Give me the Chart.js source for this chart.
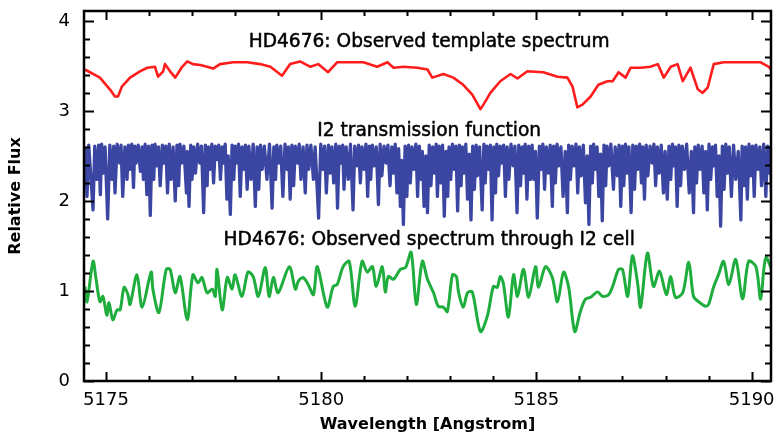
<!DOCTYPE html>
<html>
<head>
<meta charset="utf-8">
<script src="https://cdn.jsdelivr.net/npm/chart.js@4.4.0/dist/chart.umd.min.js"></script>
<style>
  html, body { margin: 0; padding: 0; background: #fff; }
  #wrap { width: 776px; height: 435px; }
</style>
</head>
<body>
<div id="wrap"><canvas id="spec"></canvas></div>
<script>
// axis setup
const xMin = 5174.49
const xMax = 5190.45
const yMin = 0
const yMax = 4.11
const xMajorTicks = [5175, 5180, 5185, 5190]
const xMinorTicks = [5175, 5176, 5177, 5178, 5179, 5180, 5181, 5182, 5183, 5184, 5185, 5186, 5187, 5188, 5189, 5190]
const yMajorTicks = [0, 1, 2, 3, 4]
const yMinorTicks = [0.2, 0.4, 0.6, 0.8, 1.2, 1.4, 1.6, 1.8, 2.2, 2.4, 2.6, 2.8, 3.2, 3.4, 3.6, 3.8]

// labels drawn inside the plot, [text, wavelength, flux]
const seriesLabels = [
  ['HD4676: Observed template spectrum', 5182.51, 3.76],
  ['I2 transmission function', 5182.51, 2.78],
  ['HD4676: Observed spectrum through I2 cell', 5182.51, 1.56],
]

// [wavelength, flux]
const templateSpectrum = [
  [5174.51, 3.46], [5174.86, 3.37], [5175.09, 3.24], [5175.21, 3.16], [5175.28, 3.16], [5175.37, 3.27],
  [5175.56, 3.37], [5175.79, 3.44], [5175.96, 3.48], [5176.14, 3.49], [5176.21, 3.38], [5176.33, 3.44],
  [5176.37, 3.52], [5176.49, 3.44], [5176.61, 3.37], [5176.77, 3.49], [5176.89, 3.55], [5177.02, 3.52],
  [5177.19, 3.51], [5177.35, 3.49], [5177.49, 3.47], [5177.65, 3.52], [5177.96, 3.54], [5178.28, 3.54],
  [5178.58, 3.52], [5178.82, 3.49], [5179.09, 3.39], [5179.28, 3.52], [5179.51, 3.55], [5179.75, 3.49],
  [5179.93, 3.52], [5180.16, 3.43], [5180.37, 3.54], [5180.68, 3.54], [5180.98, 3.54], [5181.30, 3.49],
  [5181.54, 3.54], [5181.68, 3.48], [5181.91, 3.49], [5182.23, 3.48], [5182.47, 3.46], [5182.58, 3.37],
  [5182.84, 3.41], [5183.07, 3.37], [5183.30, 3.29], [5183.51, 3.18], [5183.70, 3.02], [5183.77, 3.07],
  [5183.93, 3.20], [5184.16, 3.33], [5184.40, 3.41], [5184.56, 3.36], [5184.79, 3.44], [5185.16, 3.43],
  [5185.49, 3.38], [5185.72, 3.37], [5185.84, 3.27], [5185.95, 3.04], [5186.07, 3.07], [5186.26, 3.16],
  [5186.44, 3.29], [5186.65, 3.33], [5186.77, 3.33], [5186.91, 3.43], [5187.07, 3.37], [5187.19, 3.48],
  [5187.42, 3.48], [5187.65, 3.49], [5187.82, 3.52], [5187.96, 3.37], [5188.12, 3.49], [5188.28, 3.52],
  [5188.40, 3.33], [5188.58, 3.48], [5188.75, 3.24], [5188.86, 3.20], [5188.98, 3.26], [5189.12, 3.52],
  [5189.35, 3.54], [5189.82, 3.54], [5190.21, 3.54], [5190.40, 3.49], [5190.49, 3.43],
]

const i2Spectrum = [
  [5174.49, 2.60], [5174.52, 2.58], [5174.56, 2.05], [5174.60, 2.62], [5174.70, 1.90], [5174.74, 2.61],
  [5174.79, 2.24], [5174.83, 2.62], [5174.87, 2.07], [5174.90, 2.63], [5174.94, 2.31], [5174.98, 2.60],
  [5175.04, 1.80], [5175.09, 2.62], [5175.14, 2.24], [5175.18, 2.61], [5175.21, 2.09], [5175.26, 2.63],
  [5175.32, 2.42], [5175.35, 2.62], [5175.39, 2.05], [5175.44, 2.60], [5175.49, 2.24], [5175.52, 2.62],
  [5175.56, 2.35], [5175.60, 2.63], [5175.64, 2.15], [5175.67, 2.61], [5175.70, 2.42], [5175.75, 2.62],
  [5175.80, 2.33], [5175.84, 2.60], [5175.87, 2.24], [5175.91, 2.63], [5175.95, 2.07], [5175.99, 2.61],
  [5176.03, 1.84], [5176.07, 2.62], [5176.11, 2.24], [5176.14, 2.63], [5176.18, 2.39], [5176.22, 2.60],
  [5176.26, 2.17], [5176.31, 2.62], [5176.35, 2.42], [5176.39, 2.61], [5176.43, 2.09], [5176.47, 2.63],
  [5176.51, 2.24], [5176.56, 2.60], [5176.61, 2.00], [5176.65, 2.62], [5176.69, 2.17], [5176.72, 2.63],
  [5176.76, 2.42], [5176.81, 2.61], [5176.87, 2.09], [5176.89, 2.55], [5176.93, 1.94], [5176.97, 2.62],
  [5177.00, 2.24], [5177.04, 2.60], [5177.08, 2.31], [5177.13, 2.63], [5177.18, 2.42], [5177.22, 2.61],
  [5177.27, 1.87], [5177.31, 2.62], [5177.35, 2.17], [5177.38, 2.60], [5177.42, 2.35], [5177.46, 2.63],
  [5177.50, 2.20], [5177.54, 2.61], [5177.58, 2.46], [5177.62, 2.62], [5177.66, 2.24], [5177.70, 2.60],
  [5177.73, 2.42], [5177.77, 2.63], [5177.81, 2.02], [5177.84, 2.50], [5177.89, 1.85], [5177.93, 2.62],
  [5177.97, 2.24], [5178.00, 2.61], [5178.04, 2.42], [5178.08, 2.63], [5178.12, 2.05], [5178.16, 2.60],
  [5178.20, 2.35], [5178.24, 2.62], [5178.28, 2.13], [5178.32, 2.61], [5178.37, 2.24], [5178.42, 2.63],
  [5178.47, 1.94], [5178.51, 2.60], [5178.55, 2.13], [5178.59, 2.62], [5178.63, 2.35], [5178.68, 2.61],
  [5178.74, 2.24], [5178.80, 2.63], [5178.86, 1.92], [5178.90, 2.60], [5178.94, 2.24], [5178.97, 2.62],
  [5179.01, 2.42], [5179.06, 2.61], [5179.11, 2.05], [5179.16, 2.63], [5179.21, 2.35], [5179.24, 2.60],
  [5179.28, 2.02], [5179.32, 2.62], [5179.36, 2.17], [5179.40, 2.61], [5179.45, 2.42], [5179.49, 2.63],
  [5179.53, 2.24], [5179.58, 2.60], [5179.63, 2.09], [5179.67, 2.62], [5179.71, 2.35], [5179.76, 2.62],
  [5179.82, 2.24], [5179.86, 2.60], [5179.94, 1.81], [5179.99, 2.63], [5180.04, 2.35], [5180.08, 2.61],
  [5180.12, 2.09], [5180.17, 2.62], [5180.21, 2.31], [5180.25, 2.60], [5180.29, 2.20], [5180.34, 2.63],
  [5180.38, 1.92], [5180.42, 2.61], [5180.46, 2.42], [5180.50, 2.62], [5180.53, 2.13], [5180.58, 2.60],
  [5180.63, 2.24], [5180.68, 2.63], [5180.74, 1.90], [5180.78, 2.61], [5180.83, 2.39], [5180.87, 2.62],
  [5180.91, 2.20], [5180.95, 2.60], [5181.00, 2.35], [5181.04, 2.63], [5181.08, 2.05], [5181.12, 2.61],
  [5181.15, 2.24], [5181.19, 2.62], [5181.23, 2.39], [5181.28, 2.60], [5181.33, 1.96], [5181.37, 2.63],
  [5181.41, 2.28], [5181.46, 2.61], [5181.51, 2.42], [5181.55, 2.62], [5181.60, 2.17], [5181.64, 2.60],
  [5181.68, 2.31], [5181.72, 2.63], [5181.76, 2.09], [5181.80, 2.58], [5181.84, 1.94], [5181.87, 2.45],
  [5181.91, 1.74], [5181.95, 2.61], [5181.99, 2.05], [5182.03, 2.62], [5182.07, 2.20], [5182.11, 2.60],
  [5182.15, 2.35], [5182.20, 2.63], [5182.24, 2.05], [5182.28, 2.61], [5182.32, 2.24], [5182.35, 2.55],
  [5182.39, 1.94], [5182.43, 2.50], [5182.47, 1.87], [5182.51, 2.62], [5182.55, 2.17], [5182.59, 2.60],
  [5182.63, 2.31], [5182.67, 2.63], [5182.70, 2.05], [5182.74, 2.61], [5182.78, 2.20], [5182.82, 2.62],
  [5182.86, 1.83], [5182.90, 2.55], [5182.94, 2.05], [5182.97, 2.60], [5183.01, 2.24], [5183.05, 2.63],
  [5183.09, 2.35], [5183.13, 2.61], [5183.17, 1.89], [5183.21, 2.62], [5183.25, 2.17], [5183.28, 2.60],
  [5183.32, 2.31], [5183.36, 2.63], [5183.40, 2.02], [5183.44, 2.52], [5183.48, 1.79], [5183.52, 2.61],
  [5183.56, 2.13], [5183.60, 2.62], [5183.63, 2.28], [5183.68, 2.60], [5183.74, 1.90], [5183.78, 2.63],
  [5183.81, 2.20], [5183.85, 2.61], [5183.89, 2.35], [5183.93, 2.62], [5183.97, 1.79], [5184.01, 2.60],
  [5184.05, 2.09], [5184.08, 2.63], [5184.12, 2.28], [5184.16, 2.61], [5184.20, 2.42], [5184.24, 2.62],
  [5184.28, 2.05], [5184.32, 2.60], [5184.36, 2.24], [5184.41, 2.63], [5184.46, 2.39], [5184.50, 2.61],
  [5184.55, 1.87], [5184.59, 2.62], [5184.63, 2.17], [5184.67, 2.60], [5184.70, 2.31], [5184.74, 2.63],
  [5184.78, 2.02], [5184.82, 2.61], [5184.86, 2.24], [5184.90, 2.62], [5184.94, 2.24], [5184.98, 2.55],
  [5185.02, 1.81], [5185.07, 2.61], [5185.11, 2.35], [5185.15, 2.63], [5185.19, 2.13], [5185.23, 2.60],
  [5185.28, 2.31], [5185.32, 2.62], [5185.37, 1.94], [5185.40, 2.61], [5185.44, 2.20], [5185.48, 2.63],
  [5185.52, 2.39], [5185.57, 2.60], [5185.62, 2.05], [5185.67, 2.55], [5185.72, 1.87], [5185.75, 2.62],
  [5185.79, 2.24], [5185.83, 2.61], [5185.87, 2.39], [5185.92, 2.63], [5185.96, 2.09], [5186.00, 2.60],
  [5186.04, 2.28], [5186.09, 2.62], [5186.14, 1.98], [5186.18, 2.50], [5186.22, 1.74], [5186.26, 2.61],
  [5186.30, 2.20], [5186.33, 2.63], [5186.37, 2.35], [5186.41, 2.60], [5186.45, 2.05], [5186.49, 2.52],
  [5186.53, 1.78], [5186.57, 2.62], [5186.61, 2.17], [5186.64, 2.61], [5186.68, 2.39], [5186.73, 2.63],
  [5186.79, 2.13], [5186.83, 2.60], [5186.88, 2.28], [5186.92, 2.62], [5186.96, 1.94], [5187.00, 2.61],
  [5187.03, 2.17], [5187.07, 2.63], [5187.11, 2.31], [5187.15, 2.60], [5187.20, 1.87], [5187.24, 2.62],
  [5187.28, 2.13], [5187.32, 2.61], [5187.36, 2.35], [5187.40, 2.63], [5187.44, 2.20], [5187.47, 2.60],
  [5187.51, 2.02], [5187.55, 2.62], [5187.59, 2.28], [5187.64, 2.61], [5187.69, 2.42], [5187.73, 2.63],
  [5187.77, 2.17], [5187.81, 2.60], [5187.85, 2.31], [5187.90, 2.62], [5187.95, 2.09], [5187.99, 2.55],
  [5188.04, 2.02], [5188.08, 2.61], [5188.12, 2.24], [5188.16, 2.63], [5188.20, 2.39], [5188.23, 2.60],
  [5188.27, 1.94], [5188.31, 2.62], [5188.35, 2.17], [5188.39, 2.61], [5188.44, 2.35], [5188.49, 2.63],
  [5188.55, 2.09], [5188.60, 2.55], [5188.65, 1.87], [5188.68, 2.60], [5188.72, 2.20], [5188.76, 2.62],
  [5188.80, 2.35], [5188.85, 2.61], [5188.89, 2.09], [5188.93, 2.55], [5188.97, 1.90], [5189.01, 2.63],
  [5189.05, 2.24], [5189.09, 2.60], [5189.13, 2.39], [5189.16, 2.62], [5189.20, 2.05], [5189.24, 2.50],
  [5189.28, 1.72], [5189.32, 2.61], [5189.36, 2.13], [5189.40, 2.63], [5189.44, 2.31], [5189.48, 2.60],
  [5189.53, 2.05], [5189.58, 2.62], [5189.63, 2.24], [5189.69, 2.55], [5189.75, 1.79], [5189.78, 2.61],
  [5189.82, 2.17], [5189.86, 2.60], [5189.90, 2.02], [5189.94, 2.63], [5189.98, 2.28], [5190.02, 2.61],
  [5190.06, 2.05], [5190.10, 2.62], [5190.15, 2.35], [5190.19, 2.60], [5190.23, 2.17], [5190.28, 2.63],
  [5190.33, 2.05], [5190.37, 2.61], [5190.41, 2.31], [5190.44, 2.60], [5190.46, 2.09],
]

const observedSpectrum = [
  [5174.51, 1.05], [5174.56, 0.88], [5174.70, 1.33], [5174.77, 1.13], [5174.86, 0.88], [5174.93, 0.94],
  [5175.02, 0.73], [5175.07, 0.87], [5175.16, 0.68], [5175.26, 0.79], [5175.33, 0.79], [5175.42, 1.04],
  [5175.51, 0.96], [5175.56, 0.85], [5175.72, 1.18], [5175.84, 0.82], [5176.05, 1.21], [5176.09, 1.02],
  [5176.23, 0.76], [5176.40, 1.24], [5176.49, 1.24], [5176.61, 0.98], [5176.72, 1.16], [5176.89, 0.68],
  [5177.02, 1.18], [5177.14, 1.09], [5177.23, 1.15], [5177.35, 0.98], [5177.47, 1.02], [5177.54, 0.94],
  [5177.58, 1.24], [5177.70, 0.79], [5177.82, 1.15], [5177.93, 1.02], [5178.00, 1.18], [5178.16, 0.94],
  [5178.30, 1.21], [5178.42, 1.16], [5178.54, 0.94], [5178.70, 1.26], [5178.79, 0.94], [5178.89, 1.15],
  [5179.00, 0.98], [5179.26, 1.27], [5179.40, 1.02], [5179.47, 1.11], [5179.58, 1.15], [5179.70, 1.07],
  [5179.82, 0.96], [5179.91, 1.27], [5180.14, 0.82], [5180.28, 1.05], [5180.37, 1.07], [5180.51, 1.27],
  [5180.65, 1.33], [5180.79, 0.83], [5180.95, 1.33], [5181.07, 1.21], [5181.19, 1.27], [5181.28, 1.05],
  [5181.42, 1.27], [5181.49, 0.99], [5181.56, 1.16], [5181.68, 1.13], [5181.84, 1.24], [5181.96, 1.26],
  [5182.09, 1.43], [5182.21, 0.85], [5182.35, 1.33], [5182.47, 1.13], [5182.61, 0.98], [5182.72, 0.83],
  [5182.84, 0.82], [5182.93, 0.77], [5183.05, 1.18], [5183.14, 1.16], [5183.19, 0.99], [5183.30, 0.82],
  [5183.40, 0.98], [5183.51, 0.99], [5183.70, 0.55], [5183.86, 0.72], [5184.00, 1.05], [5184.09, 1.04],
  [5184.16, 1.16], [5184.23, 1.09], [5184.35, 0.71], [5184.47, 1.18], [5184.56, 0.94], [5184.70, 1.24],
  [5184.82, 0.93], [5184.98, 1.27], [5185.05, 1.04], [5185.21, 1.27], [5185.37, 1.15], [5185.49, 0.88],
  [5185.63, 1.21], [5185.75, 1.04], [5185.89, 0.55], [5186.02, 0.77], [5186.14, 0.91], [5186.26, 0.93],
  [5186.42, 0.99], [5186.54, 0.94], [5186.68, 0.96], [5186.77, 1.05], [5186.91, 1.24], [5187.00, 1.24],
  [5187.12, 0.94], [5187.23, 1.39], [5187.35, 1.09], [5187.42, 0.82], [5187.58, 1.42], [5187.72, 1.05],
  [5187.86, 1.22], [5188.02, 0.96], [5188.12, 1.16], [5188.23, 0.93], [5188.40, 0.98], [5188.54, 1.32],
  [5188.65, 0.94], [5188.77, 0.88], [5188.93, 0.83], [5189.00, 0.85], [5189.12, 1.05], [5189.23, 1.18],
  [5189.35, 1.33], [5189.47, 1.07], [5189.63, 1.35], [5189.79, 0.91], [5189.93, 1.33], [5190.10, 1.27],
  [5190.21, 0.91], [5190.33, 1.37], [5190.51, 1.18],
]

const FONT = '"DejaVu Sans", sans-serif'

function toXY(list){
  return list.map(p => ({ x: p[0], y: p[1] }))
}

// no extra room for overhanging tick labels, the plot box is fixed
function fixBox(s){
  s.paddingTop = 0
  s.paddingBottom = 0
  s.paddingLeft = 0
  s.paddingRight = 0
}

// frame, inward ticks on four sides, axis titles and series labels
const framePlugin = {
  id: 'frame',
  afterDraw(chart){
    const ctx = chart.ctx
    const a = chart.chartArea
    const xs = chart.scales.x
    const ys = chart.scales.y
    ctx.save()
    ctx.strokeStyle = '#000'
    ctx.lineWidth = 2
    ctx.beginPath()
    xMinorTicks.forEach(v => {
      const px = Math.round(xs.getPixelForValue(v)) + 0.5
      const len = xMajorTicks.includes(v) ? 9 : 5
      ctx.moveTo(px, a.bottom); ctx.lineTo(px, a.bottom - len)
      ctx.moveTo(px, a.top); ctx.lineTo(px, a.top + len)
    })
    yMajorTicks.concat(yMinorTicks).forEach(v => {
      const py = Math.round(ys.getPixelForValue(v)) + 0.5
      const len = yMajorTicks.includes(v) ? 10 : 6
      ctx.moveTo(a.left, py); ctx.lineTo(a.left + len, py)
      ctx.moveTo(a.right, py); ctx.lineTo(a.right - len, py)
    })
    ctx.stroke()
    ctx.lineWidth = 2.5
    ctx.strokeRect(a.left, a.top, a.right - a.left, a.bottom - a.top)

    ctx.fillStyle = '#000'
    ctx.textAlign = 'center'
    ctx.textBaseline = 'middle'
    ctx.font = '18.6px ' + FONT
    ctx.lineWidth = 0.5
    seriesLabels.forEach(l => {
      const px = xs.getPixelForValue(l[1])
      const py = ys.getPixelForValue(l[2])
      ctx.fillText(l[0], px, py)
      ctx.strokeText(l[0], px, py)
    })

    ctx.font = 'bold 16px ' + FONT
    ctx.fillText('Wavelength [Angstrom]', (a.left + a.right) / 2, 425)
    ctx.translate(16, (a.top + a.bottom) / 2)
    ctx.rotate(-Math.PI / 2)
    ctx.fillText('Relative Flux', 0, 0)
    ctx.restore()
  }
}

new Chart(document.getElementById('spec'), {
  type: 'scatter',
  data: {
    datasets: [
      { label: 'template', data: toXY(templateSpectrum), borderColor: '#ff1c1c', borderWidth: 2.6 },
      { label: 'I2', data: toXY(i2Spectrum), borderColor: '#3b46a3', borderWidth: 3.3 },
      { label: 'observed', data: toXY(observedSpectrum), borderColor: '#1fad3d', borderWidth: 3, tension: 0.3 },
    ].map(d => Object.assign({ showLine: true, pointRadius: 0, fill: false, borderJoinStyle: 'round' }, d)),
  },
  options: {
    responsive: true,
    maintainAspectRatio: false,
    animation: false,
    events: [],
    layout: { padding: { top: 11, right: 5, left: 0, bottom: 0 } },
    plugins: { legend: { display: false }, tooltip: { enabled: false } },
    scales: {
      x: {
        type: 'linear', min: xMin, max: xMax,
        grid: { display: false, drawTicks: false },
        border: { display: false },
        afterBuildTicks: s => { s.ticks = xMajorTicks.map(v => ({ value: v })) },
        afterFit: s => { s.height = 54; fixBox(s) },
        ticks: { color: '#000', font: { family: FONT, size: 18 }, padding: 9, maxRotation: 0,
          callback: v => String(v) },
      },
      y: {
        type: 'linear', min: yMin, max: yMax,
        grid: { display: false, drawTicks: false },
        border: { display: false },
        afterBuildTicks: s => { s.ticks = yMajorTicks.map(v => ({ value: v })) },
        afterFit: s => { s.width = 84; fixBox(s) },
        ticks: { color: '#000', font: { family: FONT, size: 18 }, padding: 14,
          callback: v => String(v) },
      },
    },
  },
  plugins: [framePlugin],
})
</script>
</body>
</html>
